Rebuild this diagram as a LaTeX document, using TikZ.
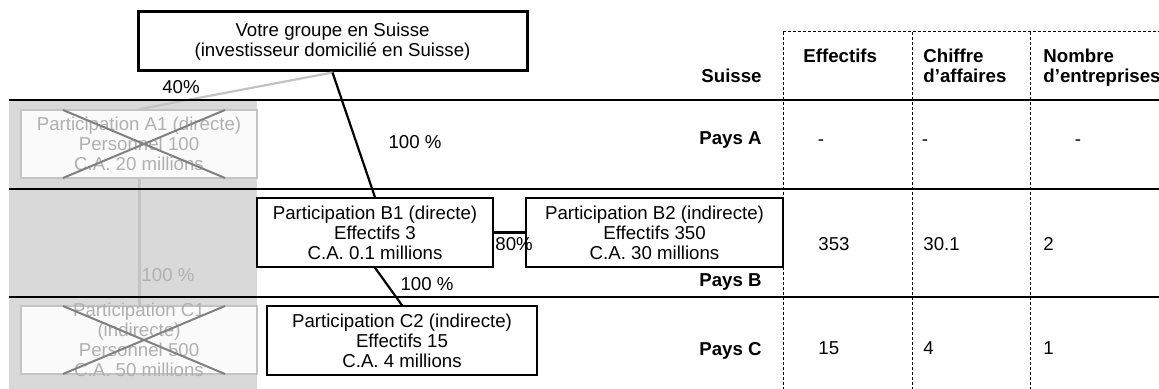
\documentclass[tikz,border=0pt]{standalone}
\usepackage{fontspec}
\setmainfont{Liberation Sans}
\definecolor{bggray}{HTML}{D9D9D9}
\definecolor{ghost}{HTML}{B0B0B0}
\definecolor{ghostline}{HTML}{C3C3C3}
\definecolor{xgray}{HTML}{808080}
\definecolor{boxwhite}{HTML}{FAFAFA}
\newcommand\fsz{\fontsize{9.33}{10}\selectfont}
\newcommand\fbz{\fontsize{9.33}{10}\selectfont\bfseries}
\tikzset{
  mainbox/.style={draw, line width=1.5pt, fill=white, inner sep=0pt, align=center, font=\fsz},
  sbox/.style={draw, line width=0.7pt, fill=white, inner sep=0pt, align=center, font=\fsz, minimum height=34.5pt},
  gbox/.style={draw=ghostline, line width=0.8pt, fill=boxwhite, minimum height=34pt, minimum width=118pt, inner sep=0pt, align=center, font=\fsz, text=ghost},
  gtxt/.style={text=ghost, align=center, font=\fsz, inner sep=0pt},
  lbl/.style={font=\fsz, inner sep=0pt, anchor=base},
  lblw/.style={font=\fsz, inner sep=0pt, anchor=base west},
  hdr/.style={font=\fbz, inner sep=0pt, anchor=base west},
  pays/.style={font=\fbz, inner sep=0pt, anchor=base east},
  link/.style={line width=1.1pt},
  glink/.style={draw=ghostline, line width=1.1pt},
  cross/.style={draw=xgray, line width=1pt},
  rulebar/.style={line width=1pt},
  gridline/.style={line width=0.5pt, dash pattern=on 1.5pt off 1pt}
}
\begin{document}
\begin{tikzpicture}[x=0.5pt, y=-0.5pt]
\useasboundingbox (0,0) rectangle (1159,389);
\fill[bggray] (9,100) rectangle (257,389);

% boxes
\node[mainbox, minimum width=194.5pt, minimum height=29.5pt] (top) at (332.5,41.5)
  {Votre groupe en Suisse\\(investisseur domicilié en Suisse)};
\node[gbox] (a1) at (139,144) {Participation A1 (directe)\\Personnel 100\\C.A. 20 millions};
\node[gbox] (c1) at (139,340) {};
\node[gtxt] (c1t) at (c1.center) {Participation C1\\(indirecte)\\Personnel 500\\C.A. 50 millions};
\node[sbox, minimum width=118pt] (b1) at (375,232.5) {Participation B1 (directe)\\Effectifs 3\\C.A. 0.1 millions};
\node[sbox, minimum width=128.5pt] (b2) at (654.5,232.5) {Participation B2 (indirecte)\\Effectifs 350\\C.A. 30 millions};
\node[sbox, minimum width=135pt] (c2) at (402,340.5) {Participation C2 (indirecte)\\Effectifs 15\\C.A. 4 millions};

% ghost connectors
\draw[glink] (a1.north) -- (top.south);
\draw[glink, line width=1.5pt] (a1.south) -- (c1.north);
% crosses
\draw[cross] (63,110) -- (225,178);
\draw[cross] (63,178) -- (225,110);
\draw[cross] (63,306) -- (225,374);
\draw[cross] (63,374) -- (225,306);

% main connectors
\draw[link] (top.south) -- (b1.north);
\draw[link] (b1.south) -- (c2.north);
\draw[line width=1.5pt] (b1.east) -- (b2.west);

% rules
\draw[rulebar] (9,100) -- (1159,100);
\draw[rulebar] (9,189) -- (1159,189);
\draw[rulebar] (9,297) -- (1159,297);

% dashed table grid
\draw[gridline] (783,32) -- (1159,32);
\draw[gridline] (783,32) -- (783,389);
\draw[gridline] (912,32) -- (912,389);
\draw[gridline] (1030,32) -- (1030,389);

% percentage labels
\node[lbl] (p40) at (181,94) {40\%};
\node[lbl] (p100a) at (415,149) {100 \%};
\node[lblw] (p80) at (495,251) {80\%};
\node[lbl] (p100b) at (427,291) {100 \%};
\node[lbl, text=ghost] (p100g) at (168,281) {100 \%};

% country labels
\node[pays] (ls) at (762,83) {Suisse};
\node[pays] (la) at (762,145) {Pays A};
\node[pays] (lb) at (762,286) {Pays B};
\node[pays] (lc) at (762,355) {Pays C};

% table headers
\node[hdr] (h1) at (803,63) {Effectifs};
\node[hdr] (h2a) at (923,63) {Chiffre};
\node[hdr] (h2b) at (923,83) {d’affaires};
\node[hdr] (h3a) at (1043,63) {Nombre};
\node[hdr] (h3b) at (1043,83) {d’entreprises};

% values
\node[lbl] (va1) at (821,146) {-};
\node[lbl] (va2) at (925,146) {-};
\node[lbl] (va3) at (1078,146) {-};
\node[lblw] (vb1) at (818,251) {353};
\node[lblw] (vb2) at (923,251) {30.1};
\node[lblw] (vb3) at (1043,251) {2};
\node[lblw] (vc1) at (818,354) {15};
\node[lblw] (vc2) at (923,354) {4};
\node[lblw] (vc3) at (1043,354) {1};
\end{tikzpicture}
\end{document}
